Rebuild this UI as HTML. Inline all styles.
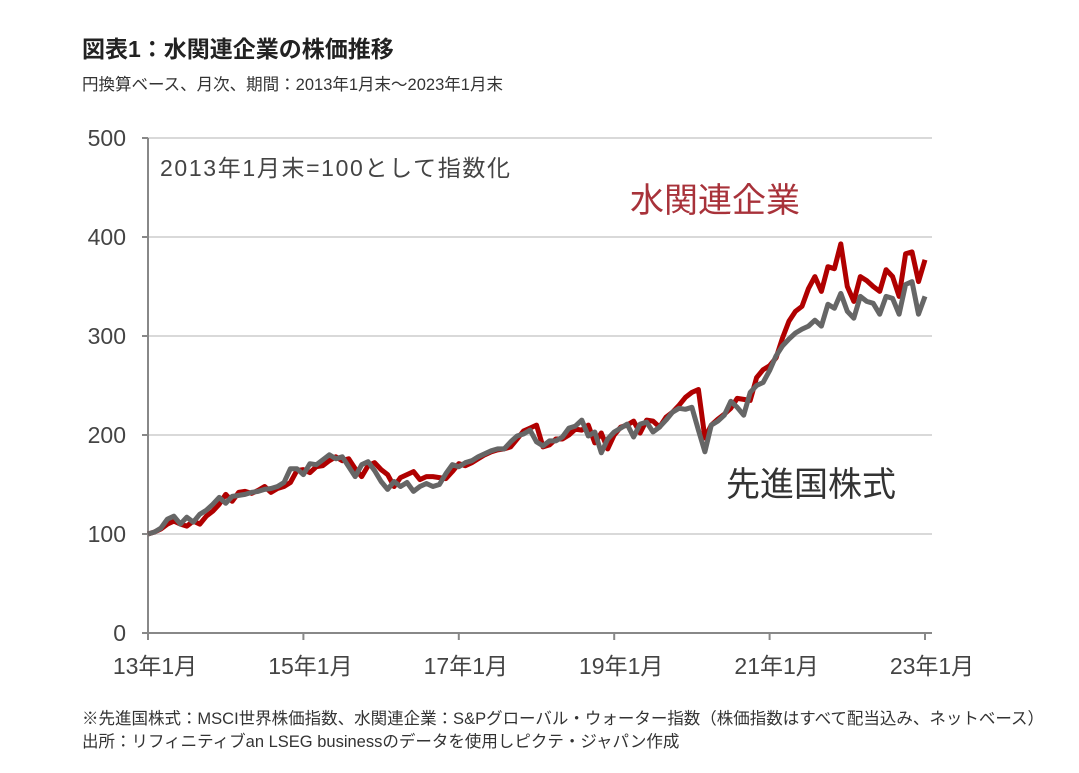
<!DOCTYPE html>
<html><head><meta charset="utf-8">
<style>
body{margin:0;background:#fff;width:1079px;height:773px;overflow:hidden;font-family:"Liberation Sans","Noto Sans CJK JP",sans-serif;}
svg{position:absolute;left:0;top:0}
text{font-family:"Liberation Sans","Noto Sans CJK JP",sans-serif;}
</style></head><body>
<svg width="1079" height="773">
<text x="82" y="57" font-size="23" font-weight="bold" fill="#222">図表1：水関連企業の株価推移</text>
<text x="82" y="90" font-size="16.5" fill="#333">円換算ベース、月次、期間：2013年1月末～2023年1月末</text>
<g id="grid"></g>
<g id="lines"></g>
<text x="160" y="176" font-size="23" fill="#444" textLength="350">2013年1月末=100として指数化</text>
<text x="630" y="212" font-size="34" fill="#a8323a">水関連企業</text>
<text x="726" y="496" font-size="34" fill="#333">先進国株式</text>
<text x="82" y="724" font-size="16.5" fill="#333" textLength="962">※先進国株式：MSCI世界株価指数、水関連企業：S&amp;Pグローバル・ウォーター指数（株価指数はすべて配当込み、ネットベース）</text>
<text x="82" y="747" font-size="16.5" fill="#333">出所：リフィニティブan LSEG businessのデータを使用しピクテ・ジャパン作成</text>
</svg>
<script>
const yTicks=[0,100,200,300,400,500];
const xTickLabels=["13年1月","15年1月","17年1月","19年1月","21年1月","23年1月"];
const xTickMonths=[0,24,48,72,96,120];
const waterValues=[100,102,105,110,113,110,108,113,110,118,123,130,
140,133,142,143,141,144,148,142,146,148,152,164,
165,162,168,169,174,178,174,176,166,158,169,172,
165,160,148,157,160,163,155,158,158,157,156,163,
171,169,172,176,180,183,185,186,188,196,204,207,
210,188,190,196,196,200,206,205,210,192,202,186,
200,208,210,214,202,215,214,208,218,223,230,238,
243,246,197,210,216,221,227,237,236,235,258,266,
270,278,298,315,325,330,348,360,345,370,368,393,
350,335,360,356,350,345,367,360,340,383,385,355,
377];
const worldValues=[100,102,106,115,118,110,117,112,120,124,130,137,
131,138,139,140,142,143,145,146,148,152,166,166,
160,171,170,175,180,176,178,168,158,170,173,164,
153,145,153,148,152,143,148,151,148,150,161,170,
168,172,174,178,181,184,186,186,193,199,201,205,
193,189,194,194,198,207,209,215,199,203,182,196,
203,207,211,198,211,213,203,208,215,223,227,226,
228,205,183,210,214,220,234,228,220,243,250,253,
265,280,290,297,303,307,310,316,310,332,328,343,
325,318,340,335,333,322,340,338,322,352,355,322,
340];
const NS="http://www.w3.org/2000/svg";
const X0=148,X1=925,Y0=633,Y500=138;
function xs(m){return X0+(X1-X0)*m/120;}
function ys(v){return Y0-(Y0-Y500)*v/500;}
const grid=document.getElementById('grid');
yTicks.forEach(v=>{
  if(v>0){const l=document.createElementNS(NS,'line');
  l.setAttribute('x1',X0);l.setAttribute('x2',932);l.setAttribute('y1',ys(v));l.setAttribute('y2',ys(v));
  l.setAttribute('stroke','#d9d9d9');l.setAttribute('stroke-width','2');
  
  
  grid.appendChild(l);}
  const tk=document.createElementNS(NS,'line');
  tk.setAttribute('x1',X0-6);tk.setAttribute('x2',X0);tk.setAttribute('y1',ys(v));tk.setAttribute('y2',ys(v));
  tk.setAttribute('stroke','#888');tk.setAttribute('stroke-width','2');
  grid.appendChild(tk);
  const t=document.createElementNS(NS,'text');
  t.setAttribute('x',126);t.setAttribute('y',ys(v)+8);t.setAttribute('text-anchor','end');
  t.setAttribute('font-size','23');t.setAttribute('fill','#444');t.textContent=v;
  
  
  grid.appendChild(t);
});
const ax=document.createElementNS(NS,'line');
ax.setAttribute('x1',X0);ax.setAttribute('x2',X0);ax.setAttribute('y1',Y500);ax.setAttribute('y2',Y0+7);
ax.setAttribute('stroke','#888');ax.setAttribute('stroke-width','2');


grid.appendChild(ax);
const bx=document.createElementNS(NS,'line');
bx.setAttribute('x1',X0);bx.setAttribute('x2',932);bx.setAttribute('y1',Y0);bx.setAttribute('y2',Y0);
bx.setAttribute('stroke','#888');bx.setAttribute('stroke-width','2');


grid.appendChild(bx);
xTickMonths.forEach((m,i)=>{
  const tk=document.createElementNS(NS,'line');
  tk.setAttribute('x1',xs(m));tk.setAttribute('x2',xs(m));tk.setAttribute('y1',Y0);tk.setAttribute('y2',Y0+7);
  tk.setAttribute('stroke','#888');tk.setAttribute('stroke-width','2');
  grid.appendChild(tk);
  const t=document.createElementNS(NS,'text');
  t.setAttribute('x',xs(m)+7);t.setAttribute('y',674);t.setAttribute('text-anchor','middle');
  t.setAttribute('font-size','23');t.setAttribute('fill','#444');t.textContent=xTickLabels[i];
  
  
  grid.appendChild(t);
});
const lines=document.getElementById('lines');
function draw(vals,color,name){
  const p=document.createElementNS(NS,'polyline');
  p.setAttribute('points',vals.map((v,m)=>xs(m).toFixed(1)+','+ys(v).toFixed(1)).join(' '));
  p.setAttribute('fill','none');p.setAttribute('stroke',color);p.setAttribute('stroke-width','5');
  p.setAttribute('stroke-linejoin','round');
  
  
  lines.appendChild(p);
}
draw(waterValues,'#b00000','water-series-line');
draw(worldValues,'#666666','world-series-line');
</script>
</body></html>
